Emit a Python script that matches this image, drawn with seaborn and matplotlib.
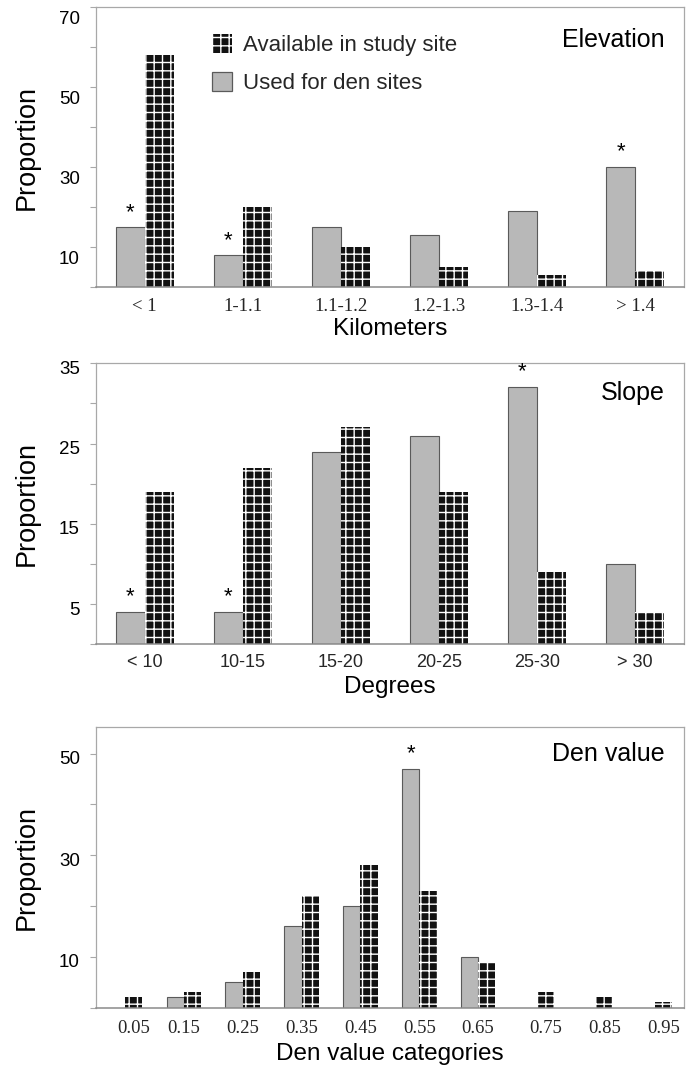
import numpy as np
import pandas as pd
import matplotlib
matplotlib.use("Agg")
import matplotlib.pyplot as plt
import matplotlib.transforms as mtransforms
from matplotlib.patches import Patch
import seaborn as sns

# ================= Data (percent of sites per class) =================
elev_cats = ["< 1", "1-1.1", "1.1-1.2", "1.2-1.3", "1.3-1.4", "> 1.4"]
elev_used = [15, 8, 15, 13, 19, 30]
elev_avail = [58, 20, 10, 5, 3, 4]
elev_star = [1, 1, 0, 0, 0, 1]

slope_cats = ["< 10", "10-15", "15-20", "20-25", "25-30", "> 30"]
slope_used = [4, 4, 24, 26, 32, 10]
slope_avail = [19, 22, 27, 19, 9, 4]
slope_star = [1, 1, 0, 0, 1, 0]

den_cats = ["0.05", "0.15", "0.25", "0.35", "0.45", "0.55", "0.65", "0.75", "0.85", "0.95"]
den_used = [0, 2, 5, 16, 20, 47, 10, 0, 0, 0]
den_avail = [2, 3, 7, 22, 28, 23, 9, 3, 2, 1]
den_star = [0, 0, 0, 0, 0, 1, 0, 0, 0, 0]

USED = "Used for den sites"
AVAIL = "Available in study site"

# ================= Style =================
sns.set_theme(style="white")
plt.rcParams["font.family"] = ["Liberation Sans", "DejaVu Sans"]
plt.rcParams["hatch.linewidth"] = 1.0
SERIF = ["Liberation Serif", "DejaVu Serif"]

GRAY = "#b8b8b8"
GRAY_EDGE = "#5a5a5a"
DARK = "#121212"
FRAME = "#a8a8a8"


def long_df(cats, used, avail):
    return pd.DataFrame({
        "cat": cats * 2,
        "val": used + avail,
        "grp": [USED] * len(cats) + [AVAIL] * len(cats),
    })


panels = [
    dict(cats=elev_cats, used=elev_used, avail=elev_avail, star=elev_star,
         title="Elevation", xlabel="Kilometers", ymax=70, yticks=range(0, 71, 10),
         ylab=[10, 30, 50, 70], ydy=7.2, serif=True, xpad=7.5, lpad=2,
         rect=[0.1389, 0.7311, 0.8539, 0.2621], ty=0.882),
    dict(cats=slope_cats, used=slope_used, avail=slope_avail, star=slope_star,
         title="Slope", xlabel="Degrees", ymax=35, yticks=range(0, 36, 5),
         ylab=[5, 15, 25, 35], ydy=2.9, serif=False, xpad=7, lpad=3.5,
         rect=[0.1389, 0.3973, 0.8539, 0.2629], ty=0.893),
    dict(cats=den_cats, used=den_used, avail=den_avail, star=den_star,
         title="Den value", xlabel="Den value categories", ymax=55.3, yticks=range(0, 51, 10),
         ylab=[10, 30, 50], ydy=2.9, serif=True, xpad=9, lpad=4,
         rect=[0.1389, 0.0575, 0.8539, 0.2627], ty=0.903),
]

fig = plt.figure(figsize=(6.89, 10.69), dpi=100)

for i, p in enumerate(panels):
    ax = fig.add_axes(p["rect"])
    df = long_df(p["cats"], p["used"], p["avail"])
    sns.barplot(data=df, x="cat", y="val", hue="grp", hue_order=[USED, AVAIL],
                order=p["cats"], width=0.59, palette=[GRAY, DARK], ax=ax,
                legend=False, errorbar=None, saturation=1)

    used_bars, avail_bars = ax.containers[0], ax.containers[1]
    for bar in used_bars:
        bar.set_edgecolor(GRAY_EDGE)
        bar.set_linewidth(0.8 if bar.get_height() > 0 else 0)
    for bar in avail_bars:
        bar.set_hatch("++")
        bar.set_edgecolor("white")
        bar.set_linewidth(0)

    # significance stars above used bars
    for bar, s in zip(used_bars, p["star"]):
        if s:
            ax.annotate("*", (bar.get_x() + bar.get_width() / 2, bar.get_height()),
                        xytext=(0, 7), textcoords="offset points",
                        ha="center", va="baseline", fontsize=16, color="black")

    # x ticks: centre of drawn bars
    xt = []
    for ub, ab in zip(used_bars, avail_bars):
        if ub.get_height() > 0:
            xt.append(ab.get_x())
        else:
            xt.append(ab.get_x() + ab.get_width() / 2)
    ax.set_xticks(xt)
    ax.set_xticklabels(p["cats"], fontsize=13.5 if p["serif"] else 13,
                       family=SERIF if p["serif"] else None)
    ax.tick_params(axis="x", length=0, pad=p["xpad"])
    ax.set_xlim(-0.5, len(p["cats"]) - 0.5)

    ax.set_ylim(0, p["ymax"])
    ax.set_yticks(list(p["yticks"]))
    ax.set_yticklabels([str(t) if t in p["ylab"] else "" for t in p["yticks"]], fontsize=13.5)
    ax.tick_params(axis="y", left=True, length=4, width=0.8, color=FRAME, pad=7.5,
                   labelcolor="black")
    off = mtransforms.ScaledTranslation(0, -p["ydy"] / 72, fig.dpi_scale_trans)
    for lab in ax.get_yticklabels():
        lab.set_transform(lab.get_transform() + off)

    ax.set_xlabel(p["xlabel"], fontsize=17.5, labelpad=p["lpad"], color="black")
    ax.set_ylabel("Proportion", fontsize=19.5, color="black")
    ax.yaxis.set_label_coords(-0.095, 0.5)

    for side in ["top", "left", "right"]:
        ax.spines[side].set_color(FRAME)
        ax.spines[side].set_linewidth(0.9)
    ax.spines["bottom"].set_color("#8a8a8a")
    ax.spines["bottom"].set_linewidth(1.1)
    ax.grid(False)

    ax.text(0.967, p["ty"], p["title"], transform=ax.transAxes, ha="right",
            va="center", fontsize=18, color="black")

    if i == 0:
        handles = [Patch(facecolor=DARK, edgecolor="white", hatch="++", linewidth=0),
                   Patch(facecolor=GRAY, edgecolor=GRAY_EDGE, linewidth=0.9)]
        ax.legend(handles, [AVAIL, USED], loc="upper left", bbox_to_anchor=(0.197, 0.903),
                  frameon=False, fontsize=16, handlelength=0.93, handleheight=0.9,
                  handletextpad=0.5, labelspacing=0.72, borderpad=0, borderaxespad=0)

fig.savefig("out.png", dpi=100)
